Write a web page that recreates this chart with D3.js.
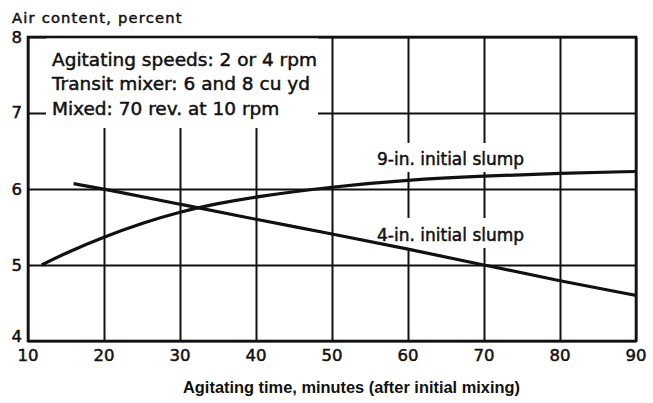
<!DOCTYPE html>
<html>
<head>
<meta charset="utf-8">
<script src="https://cdn.jsdelivr.net/npm/d3@7"></script>
<style>
  html, body { margin: 0; padding: 0; background: #fff; }
  svg { display: block; }
  text { fill: #111; }
</style>
</head>
<body>
<svg id="chart" width="653" height="403"></svg>
<script>
// ---- data ----
const xTicks = [10, 20, 30, 40, 50, 60, 70, 80, 90];
const yTicks = [4, 5, 6, 7, 8];
const slump9Time = [11.8, 15, 20, 25, 30, 35, 40, 50, 60, 70, 80, 90];
const slump9Air  = [5.0, 5.16, 5.37, 5.55, 5.7, 5.81, 5.9, 6.03, 6.12, 6.17, 6.21, 6.23];
const slump4Time = [16, 20, 30, 40, 50, 60, 70, 80, 90];
const slump4Air  = [6.07, 6.0, 5.8, 5.6, 5.41, 5.21, 5.0, 4.79, 4.6];
const notes = ["Agitating speeds: 2 or 4 rpm", "Transit mixer: 6 and 8 cu yd", "Mixed: 70 rev. at 10 rpm"];
const label9 = "9-in. initial slump";
const label4 = "4-in. initial slump";
const yTitle = "Air content, percent";
const xTitle = "Agitating time, minutes (after initial mixing)";

// ---- layout ----
const svg = d3.select("#chart");
const L = 28, R = 636, T = 37, B = 341;
const x = d3.scaleLinear().domain([10, 90]).range([L, R]);
const y = d3.scaleLinear().domain([4, 8]).range([B, T]);
const ink = "#111";

// grid via axes
const gx = svg.append("g").attr("transform", `translate(0,${B})`)
  .call(d3.axisBottom(x).tickValues(xTicks).tickSize(-(B - T)).tickFormat(""));
const gy = svg.append("g").attr("transform", `translate(${L},0)`)
  .call(d3.axisLeft(y).tickValues(yTicks).tickSize(-(R - L)).tickFormat(""));
[gx, gy].forEach(g => {
  g.select(".domain").remove();
  g.selectAll(".tick line").attr("stroke", ink).attr("stroke-width", 2);
});

// white masks behind texts
svg.append("rect").attr("x", 46).attr("y", T + 1).attr("width", 318 - 46).attr("height", 128 - T - 1).attr("fill", "#fff");
svg.append("rect").attr("x", 372).attr("y", 143).attr("width", 156).attr("height", 29).attr("fill", "#fff");
svg.append("rect").attr("x", 372).attr("y", 218).attr("width", 156).attr("height", 30).attr("fill", "#fff");

// frame
svg.append("rect").attr("x", L).attr("y", T).attr("width", R - L).attr("height", B - T)
  .attr("fill", "none").attr("stroke", ink).attr("stroke-width", 2.6);

// curves
const line = d3.line().x(d => x(d[0])).y(d => y(d[1])).curve(d3.curveBasis);
const s9 = slump9Time.map((t, i) => [t, slump9Air[i]]);
const s4 = slump4Time.map((t, i) => [t, slump4Air[i]]);
[s9, s4].forEach(s => {
  svg.append("path").attr("d", line(s)).attr("fill", "none")
    .attr("stroke", ink).attr("stroke-width", 3.2).attr("stroke-linecap", "butt");
});

// tick labels
const tickFont = "DejaVu Sans, sans-serif";
svg.append("g").selectAll("text").data(xTicks).join("text")
  .attr("x", d => x(d)).attr("y", 361)
  .attr("text-anchor", "middle").attr("font-family", tickFont).attr("font-size", 16.5)
  .attr("stroke", ink).attr("stroke-width", 0.5)
  .text(d => d);
svg.append("g").selectAll("text").data(yTicks).join("text")
  .attr("x", 22).attr("y", d => y(d) + 6)
  .attr("text-anchor", "end").attr("font-family", tickFont).attr("font-size", 16.5)
  .attr("stroke", ink).attr("stroke-width", 0.5)
  .attr("dy", d => d === 4 ? -5 : (d === 7 ? -1 : 0))
  .text(d => d);

// notes
svg.append("g").selectAll("text").data(notes).join("text")
  .attr("x", 52).attr("y", (d, i) => [66, 90, 115][i])
  .attr("font-family", tickFont).attr("font-size", 18.5)
  .attr("stroke", ink).attr("stroke-width", 0.5)
  .text(d => d);

// curve labels
svg.append("text").attr("x", 377).attr("y", 165)
  .attr("font-family", tickFont).attr("font-size", 17)
  .attr("stroke", ink).attr("stroke-width", 0.5).text(label9);
svg.append("text").attr("x", 377).attr("y", 241)
  .attr("font-family", tickFont).attr("font-size", 17)
  .attr("stroke", ink).attr("stroke-width", 0.5).text(label4);

// axis titles
svg.append("text").attr("x", 12).attr("y", 23)
  .attr("font-family", tickFont).attr("font-size", 14.7).attr("letter-spacing", 1.2)
  .attr("stroke", ink).attr("stroke-width", 0.5).text(yTitle);
svg.append("text").attr("x", 351.5).attr("y", 393).attr("text-anchor", "middle")
  .attr("font-family", "Liberation Sans, Arial, sans-serif").attr("font-weight", "bold")
  .attr("font-size", 16.4).text(xTitle);
</script>
</body>
</html>
